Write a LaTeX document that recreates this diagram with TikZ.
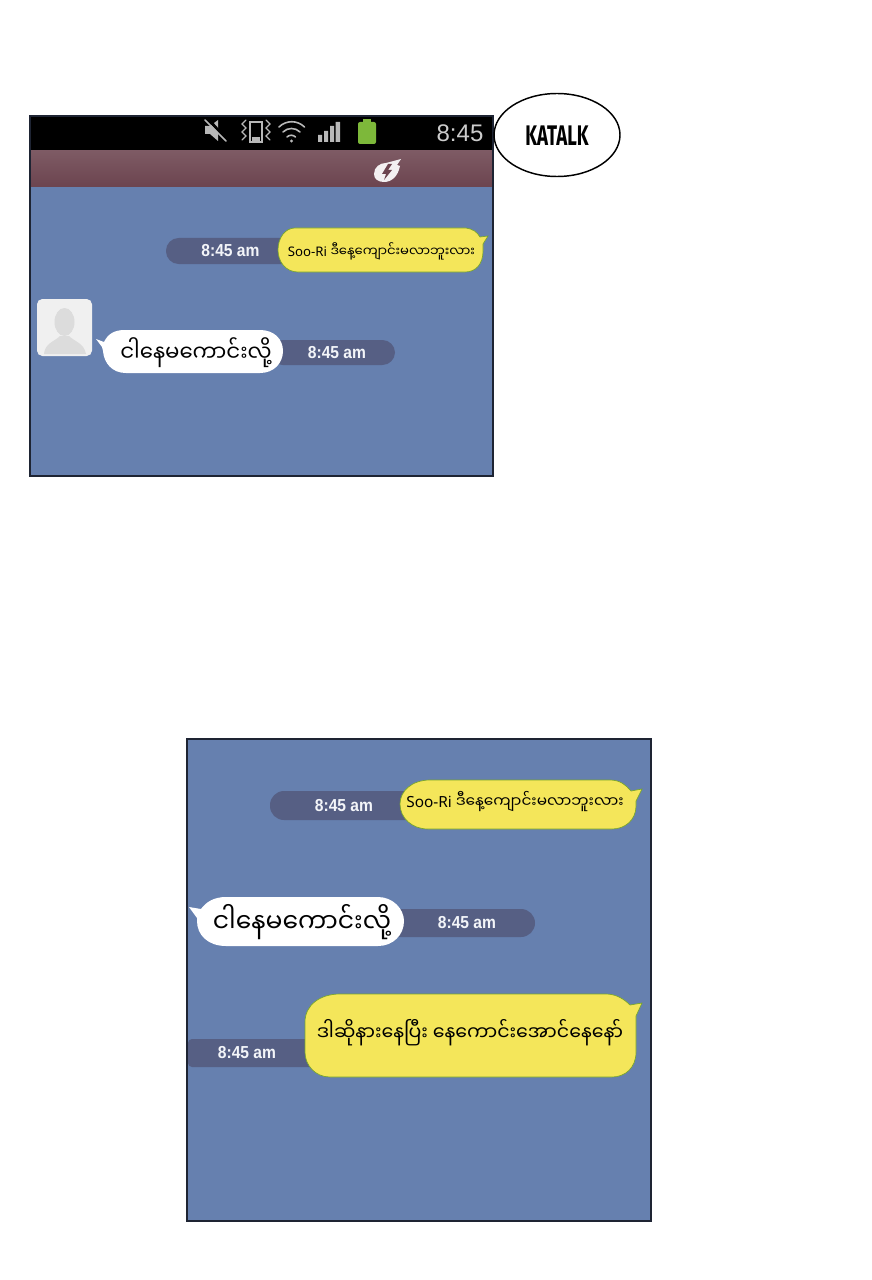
\documentclass[tikz,border=0pt]{standalone}
\usepackage{fontspec}
\setmainfont{Liberation Sans}
\newfontfamily\myan[Script=Myanmar]{Noto Sans Myanmar UI}
\newfontfamily\lat{Noto Sans}
\newfontfamily\hand{Fira Sans}
\definecolor{chatblue}{HTML}{6680AF}
\definecolor{pillc}{HTML}{565F84}
\definecolor{yel}{HTML}{F4E65A}
\definecolor{maro}{HTML}{6C444F}
\definecolor{frm}{HTML}{1E2433}
\definecolor{ava}{HTML}{F0F0F0}
\definecolor{avas}{HTML}{DCDCDC}
\definecolor{icon}{HTML}{B8B8B8}
\definecolor{batt}{HTML}{7DB83A}
\newcommand{\stmp}{\scalebox{0.9}[1]{8:45 am}}
\tikzset{
  x=0.75pt,y=-0.75pt,
  ybub/.style={fill=yel,draw=yel!70!green!70!black,line width=0.5pt},
  wbub/.style={fill=white},
  stamp/.style={text=white!92!chatblue,font=\bfseries\fontsize{13}{13}\selectfont,inner sep=0pt},
  burm/.style={text=black,font=\myan\fontsize{#1}{#1}\selectfont,inner sep=0pt},
  icn/.style={draw=icon,line width=1pt,line cap=round},
}
\begin{document}
\begin{tikzpicture}
\useasboundingbox[fill=white] (0,0) rectangle (871,1280);
% --- top panel
\fill[chatblue] (30,116) rectangle (493,476);
\fill[black] (30,116) rectangle (493,151);
\shade[top color=maro!88!white,bottom color=maro] (30,151) rectangle (493,187);
\draw[frm,line width=1.1pt] (30,116) rectangle (493,476);
% status icons
\fill[icon] (205,126) -- (210,126) -- (218,120) -- (218,141) -- (210,134) -- (205,134) -- cycle;
\draw[black,line width=2.2pt] (208,119) -- (228,141);
\draw[icn,line width=1.1pt] (205,120) -- (226,141);
\draw[icn,line width=1pt] (250,122) rectangle (262,142);
\fill[icon] (252,137) rectangle (260,142);
\draw[icn,line width=0.9pt] (246,120) -- (242,124) -- (246,128) -- (242,132) -- (246,136) -- (242,140);
\draw[icn,line width=0.9pt] (266,120) -- (270,124) -- (266,128) -- (270,132) -- (266,136) -- (270,140);
\draw[icn,line width=1.2pt] (279,127) arc[start angle=225,end angle=315,radius=18];
\draw[icn,line width=1.2pt] (283,132) arc[start angle=225,end angle=315,radius=12];
\draw[icn,line width=1.2pt] (287,137) arc[start angle=225,end angle=315,radius=6];
\fill[icon] (291.5,141) circle (1.6);
\fill[icon] (318,135) rectangle (322,142) (324,131) rectangle (328,142) (330,126) rectangle (334,142) (335.5,122) rectangle (340,142);
\fill[batt,rounded corners=1.5pt] (358,122) rectangle (376,144);
\fill[batt] (363,119.5) rectangle (371,123);
\node[text=white!80!black,font=\fontsize{18}{18}\selectfont,inner sep=0pt] (clock) at (460,133) {8:45};
% lightning badge
\fill[white!92!maro] (374,174) .. controls (374,167) and (380,163) .. (386,163) -- (401,159) -- (397,165) -- (400,166) .. controls (398,176) and (392,182) .. (384,182) .. controls (378,182) and (374,179) .. (374,174) -- cycle;
\fill[maro] (388,164) -- (382,174) -- (386,174) -- (384,180) -- (392,170) -- (388,170) -- (392,164) -- cycle;
% katalk ellipse
\draw[black,line width=1.1pt,fill=white] (557,135) ellipse [x radius=63,y radius=41.5];
\node[inner sep=0pt] (katalkt) at (557,136) {\hand\bfseries\fontsize{17}{17}\selectfont\scalebox{0.82}[1.25]{KATALK}};
% first message
\fill[pillc,rounded corners=9.5pt] (166,238) rectangle (295,264);
\node[stamp] (t1) at (230.5,251) {\stmp};
\path[ybub] (295,228) -- (466,228) .. controls (473,229) and (477,232) .. (480,237) -- (488,236) -- (483,244) -- (483,251) .. controls (483,264) and (476,272) .. (465,272) -- (298,272) .. controls (286,272) and (278,262) .. (278,250) .. controls (278,238) and (285,228) .. (295,228) -- cycle;
\node[burm=9.9] (m1) at (381.5,251) {{\lat Soo-Ri} ဒီနေ့ကျောင်းမလာဘူးလား};
% avatar
\fill[ava,rounded corners=4pt] (37,299) rectangle (92,356);
\fill[avas] (64.5,322) ellipse [x radius=10,y radius=14];
\fill[avas] (44,354) .. controls (45,343) and (54,342) .. (60,336) -- (69,336) .. controls (75,342) and (84,343) .. (86,354) -- cycle;
% second message
\fill[pillc,rounded corners=9.5pt] (270,340) rectangle (395,365);
\node[stamp] (t2) at (337,352.5) {\stmp};
\path[wbub] (96,339) -- (104,342) .. controls (108,334) and (114,330) .. (125,330) -- (260,330) .. controls (274,330) and (283,339) .. (283,351) .. controls (283,363) and (274,373) .. (260,373) -- (126,373) .. controls (112,373) and (104,363) .. (103,351) -- (102,347) -- cycle;
\node[burm=17] (m2) at (196,353) {\scalebox{0.94}[1]{ငါနေမကောင်းလို့}};
% --- bottom panel
\fill[chatblue] (187,739) rectangle (651,1221);
\draw[frm,line width=1.1pt] (187,739) rectangle (651,1221);
% msg 1
\fill[pillc,rounded corners=10.5pt] (270,791) rectangle (420,820);
\node[stamp] (t3) at (344,806) {\stmp};
\path[ybub] (430,780) -- (610,780) .. controls (620,780) and (626,785) .. (631,791) -- (642,789) -- (636,801) -- (636,806) .. controls (636,820) and (625,829) .. (612,829) -- (428,829) .. controls (412,829) and (400,818) .. (400,804) .. controls (400,791) and (412,780) .. (430,780) -- cycle;
\node[burm=11.5] (m3) at (515,802) {{\lat Soo-Ri} ဒီနေ့ကျောင်းမလာဘူးလား};
% msg 2
\fill[pillc,rounded corners=10.5pt] (385,909) rectangle (535,937);
\node[stamp] (t4) at (467,923) {\stmp};
\path[wbub] (189,907) -- (201,909) .. controls (206,902) and (214,897) .. (226,897) -- (378,897) .. controls (393,897) and (404,909) .. (404,921) .. controls (404,935) and (393,946) .. (378,946) -- (226,946) .. controls (208,946) and (197,935) .. (197,921) -- (197,918) -- cycle;
\node[burm=20] (m4) at (302,922) {\scalebox{0.94}[1]{ငါနေမကောင်းလို့}};
% msg 3
\fill[pillc,rounded corners=3pt] (188,1039) rectangle (320,1067);
\node[stamp] (t5) at (247,1053) {\stmp};
\path[ybub] (340,994) -- (606,994) .. controls (616,994) and (624,999) .. (630,1005) -- (642,1003) -- (636,1016) -- (636,1052) .. controls (636,1068) and (625,1077) .. (612,1077) -- (330,1077) .. controls (315,1077) and (305,1065) .. (305,1052) -- (305,1022) .. controls (305,1005) and (320,994) .. (340,994) -- cycle;
\node[burm=15] (m5) at (470,1033) {\scalebox{0.95}[1]{ဒါဆိုနားနေပြီး နေကောင်းအောင်နေနော်}};
\end{tikzpicture}
\end{document}
